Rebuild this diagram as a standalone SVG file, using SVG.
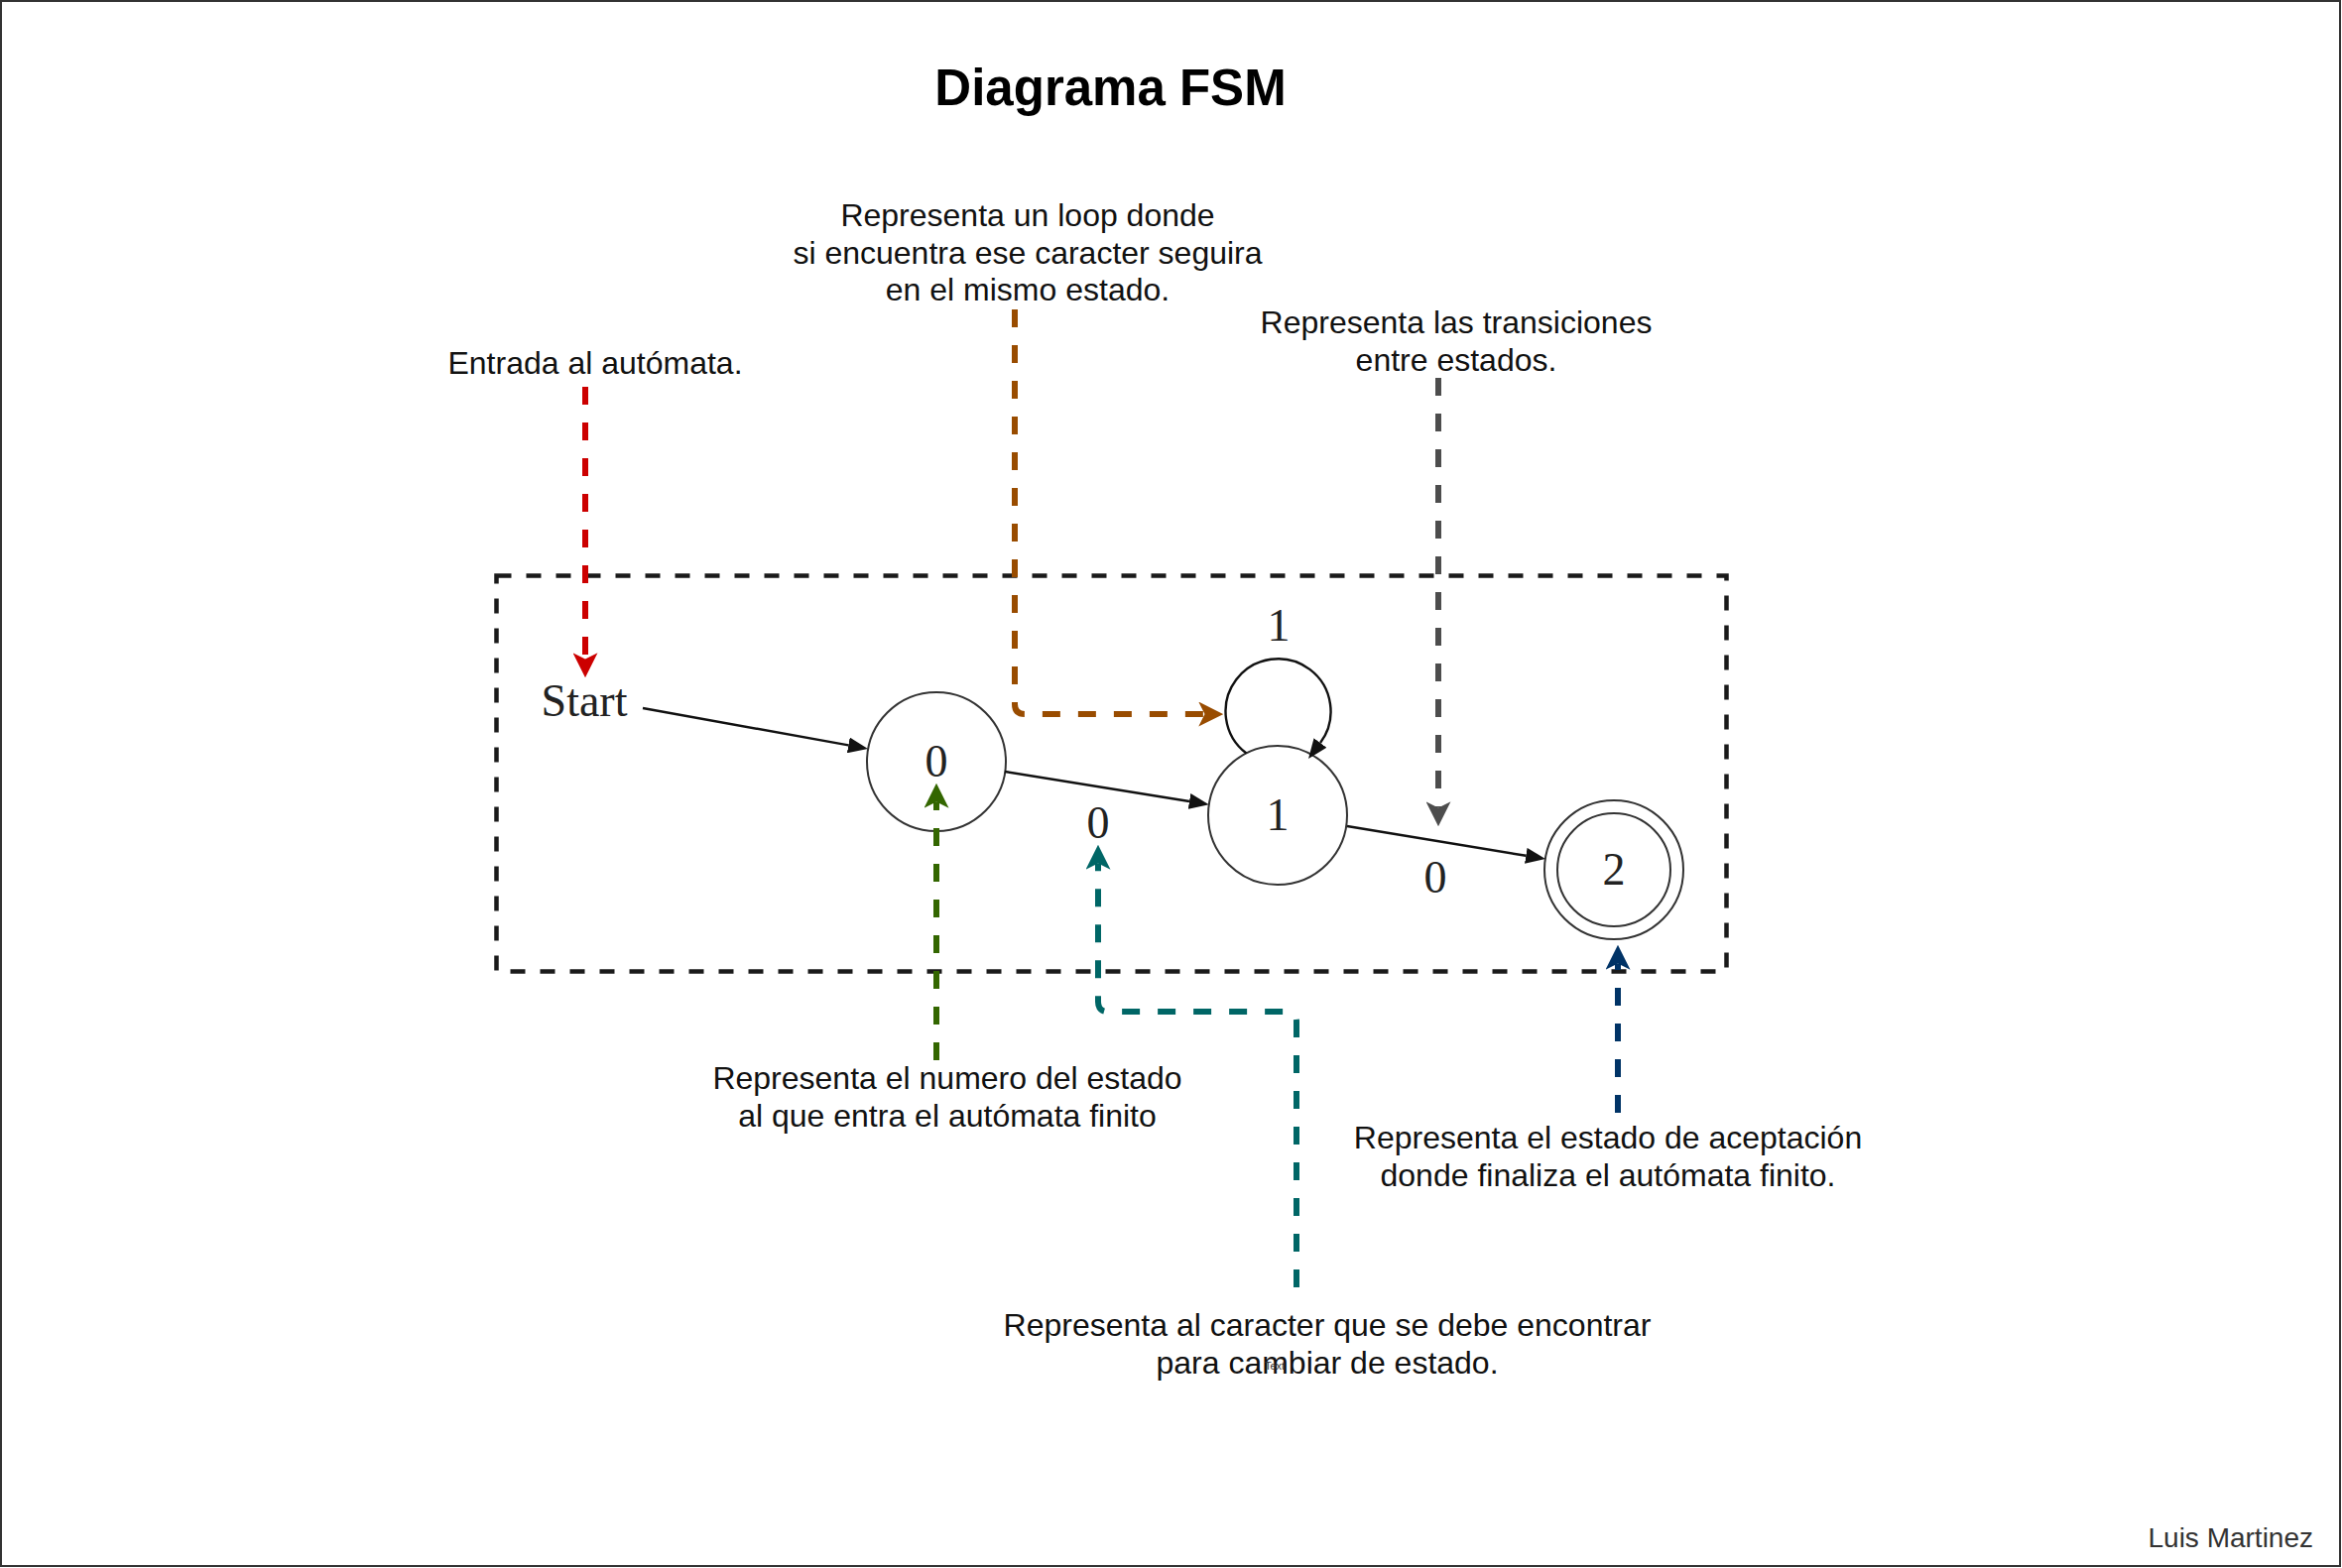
<svg xmlns="http://www.w3.org/2000/svg" width="2361" height="1581" viewBox="0 0 2361 1581">
<style>
.note{font-family:"Liberation Sans",Arial,sans-serif;font-size:32px;fill:#111;text-anchor:middle}
.gv{font-family:"Liberation Serif","Times New Roman",serif;font-size:46px;fill:#222;text-anchor:middle}
.state{fill:none;stroke:#333;stroke-width:2}
.edge{fill:none;stroke:#111;stroke-width:2.4}
.dash{fill:none;stroke-width:6;stroke-dasharray:18 18}
</style>
<defs>
<marker id="aBlack" markerUnits="userSpaceOnUse" viewBox="0 0 20 16" markerWidth="20" markerHeight="16" refX="0" refY="8" orient="auto"><path d="M20,8 L0,0 L0,16 Z" fill="#111"/></marker>
<marker id="aRed" markerUnits="userSpaceOnUse" viewBox="0 0 25 25" markerWidth="25" markerHeight="25" refX="6.25" refY="12.5" orient="auto"><path d="M25,12.5 L0,0 L6.25,12.5 L0,25 Z" fill="#CC0000"/></marker>
<marker id="aBrown" markerUnits="userSpaceOnUse" viewBox="0 0 25 25" markerWidth="25" markerHeight="25" refX="6.25" refY="12.5" orient="auto"><path d="M25,12.5 L0,0 L6.25,12.5 L0,25 Z" fill="#994C00"/></marker>
<marker id="aGray" markerUnits="userSpaceOnUse" viewBox="0 0 25 25" markerWidth="25" markerHeight="25" refX="6.25" refY="12.5" orient="auto"><path d="M25,12.5 L0,0 L6.25,12.5 L0,25 Z" fill="#4D4D4D"/></marker>
<marker id="aGreen" markerUnits="userSpaceOnUse" viewBox="0 0 25 25" markerWidth="25" markerHeight="25" refX="6.25" refY="12.5" orient="auto"><path d="M25,12.5 L0,0 L6.25,12.5 L0,25 Z" fill="#336600"/></marker>
<marker id="aTeal" markerUnits="userSpaceOnUse" viewBox="0 0 25 25" markerWidth="25" markerHeight="25" refX="6.25" refY="12.5" orient="auto"><path d="M25,12.5 L0,0 L6.25,12.5 L0,25 Z" fill="#006666"/></marker>
<marker id="aNavy" markerUnits="userSpaceOnUse" viewBox="0 0 25 25" markerWidth="25" markerHeight="25" refX="6.25" refY="12.5" orient="auto"><path d="M25,12.5 L0,0 L6.25,12.5 L0,25 Z" fill="#003366"/></marker>
</defs>
<rect x="0" y="0" width="2361" height="1581" fill="#ffffff"/>
<rect x="1" y="1" width="2358" height="1578" fill="none" stroke="#333" stroke-width="2"/>
<text id="title" x="1119.5" y="106" font-family="'Liberation Sans',Arial,sans-serif" font-size="51" font-weight="bold" text-anchor="middle" fill="#000">Diagrama FSM</text>

<g id="frame"><rect x="500.5" y="580.5" width="1240" height="399" fill="none" stroke="#1a1a1a" stroke-width="4.5" stroke-dasharray="15 15"/></g>

<g id="start-label"><text class="gv" x="589" y="722" font-size="47">Start</text></g>
<g id="state0"><circle class="state" cx="944" cy="768" r="70"/><text class="gv" x="944" y="783">0</text></g>
<g id="state1"><circle class="state" cx="1288" cy="822" r="70"/><text class="gv" x="1288" y="837">1</text></g>
<g id="state2"><circle class="state" cx="1627" cy="877" r="70"/><circle class="state" cx="1627" cy="877" r="57"/><text class="gv" x="1627" y="892">2</text></g>

<g id="connectors">
<path class="edge" d="M648,714 L855.3,751.4" marker-end="url(#aBlack)"/>
<path class="edge" d="M1013,778 L1199,808" marker-end="url(#aBlack)"/>
<path class="edge" d="M1358,833 L1538.3,862.8" marker-end="url(#aBlack)"/>
<path class="edge" d="M1256.5,759.5 A53,53 0 1,1 1331,749" marker-end="url(#aBlack)"/>
<text class="gv" x="1289" y="646">1</text>
<text class="gv" x="1107" y="845">0</text>
<text class="gv" x="1447" y="900">0</text>

<path class="dash" stroke="#CC0000" d="M590,390 L590,664.5" marker-end="url(#aRed)"/>
<path class="dash" stroke="#994C00" d="M1023,312 L1023,710 Q1023,720 1033,720 L1214.5,720" marker-end="url(#aBrown)"/>
<path class="dash" stroke="#4D4D4D" d="M1450,381 L1450,814.5" marker-end="url(#aGray)"/>
<path class="dash" stroke="#336600" d="M944,1069 L944,808.5" marker-end="url(#aGreen)"/>
<path class="dash" stroke="#006666" d="M1307,1298 L1307,1030 Q1307,1020 1297,1020 L1117,1020 Q1107,1020 1107,1010 L1107,870.5" marker-end="url(#aTeal)"/>
<path class="dash" stroke="#003366" d="M1631,1122 L1631,971.5" marker-end="url(#aNavy)"/>
</g>

<g id="note-entrada"><text class="note" x="600" y="377">Entrada al autómata.</text></g>
<g id="note-loop"><text class="note" x="1036"><tspan x="1036" y="228">Representa un loop donde</tspan><tspan x="1036" y="266">si encuentra ese caracter seguira</tspan><tspan x="1036" y="303">en el mismo estado.</tspan></text></g>
<g id="note-transiciones"><text class="note"><tspan x="1468" y="336">Representa las transiciones</tspan><tspan x="1468" y="374">entre estados.</tspan></text></g>
<g id="note-numero"><text class="note"><tspan x="955" y="1098">Representa el numero del estado</tspan><tspan x="955" y="1136">al que entra el autómata finito</tspan></text></g>
<g id="note-aceptacion"><text class="note"><tspan x="1621" y="1158">Representa el estado de aceptación</tspan><tspan x="1621" y="1196">donde finaliza el autómata finito.</tspan></text></g>
<g id="note-caracter"><text class="note"><tspan x="1338" y="1347">Representa al caracter que se debe encontrar</tspan><tspan x="1338" y="1385">para cambiar de estado.</tspan></text></g>
<g id="tiny-text"><text x="1285" y="1381" font-family="'Liberation Sans',Arial,sans-serif" font-size="11" fill="#333" text-anchor="middle">Text</text></g>
<g id="author"><text x="2332" y="1560" font-family="'Liberation Sans',Arial,sans-serif" font-size="28" fill="#333" text-anchor="end">Luis Martinez</text></g>
</svg>
